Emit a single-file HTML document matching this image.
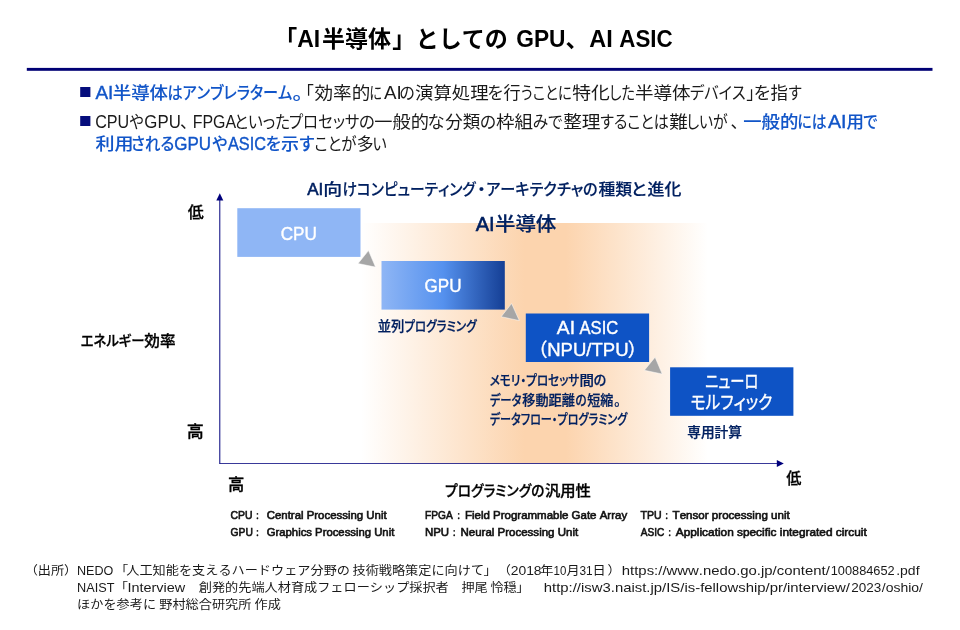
<!DOCTYPE html>
<html lang="ja">
<head>
<meta charset="utf-8">
<title>「AI半導体」としての GPU、AI ASIC</title>
<style>
html,body{margin:0;padding:0;background:#fff;}
body{width:960px;height:630px;overflow:hidden;position:relative;}
svg{position:absolute;left:0;top:0;display:block;}
text{font-family:"Liberation Sans","Noto Sans CJK JP",sans-serif;white-space:pre;font-kerning:none;}
.p{font-feature-settings:"palt";}
.title{font-size:23px;font-weight:700;fill:#000;}
.b{font-size:16.9px;fill:#1a1a1a;}
.L{font-size:18.8px;}
.W{stroke-width:.55px;}
.bl{fill:#1155c8;font-weight:500;stroke:#1155c8;stroke-width:.1px;}
.bl.L{stroke-width:.4px;}
.ct{font-size:16.4px;font-weight:500;fill:#002060;stroke:#002060;stroke-width:.18px;}
.ai{font-size:19.4px;font-weight:500;fill:#002060;stroke:#002060;stroke-width:.22px;}
.ax{font-size:15.6px;font-weight:500;fill:#000;stroke:#000;stroke-width:.3px;}
.axs{font-size:14.4px;font-weight:500;fill:#000;stroke:#000;stroke-width:.3px;}
.bx{font-size:18.5px;fill:#fff;stroke:#fff;stroke-width:.4px;}
.nt{font-size:13.33px;font-weight:500;fill:#002060;stroke:#002060;stroke-width:.25px;}
.gl{font-size:10.8px;font-weight:400;fill:#111;stroke:#111;stroke-width:.6px;}
.ft{font-size:13.17px;fill:#1a1a1a;}
.fl{font-size:14.6px;}
.cl{font-size:8.4px;font-weight:900;stroke-width:0;}
.tl{font-size:24.8px;}
</style>
</head>
<body>
<svg width="960" height="630" viewBox="0 0 960 630">
<defs>
<linearGradient id="peach" x1="0" y1="0" x2="1" y2="0">
<stop offset="0" stop-color="#fff"/>
<stop offset="0.47" stop-color="#fcd4ae"/>
<stop offset="0.59" stop-color="#fcd4ae"/>
<stop offset="1" stop-color="#fff"/>
</linearGradient>
<linearGradient id="gpu" x1="0" y1="0" x2="1" y2="0">
<stop offset="0" stop-color="#8fb6f5"/>
<stop offset="0.5" stop-color="#5591ee"/>
<stop offset="1" stop-color="#153f95"/>
</linearGradient>
</defs>
<rect x="0" y="0" width="960" height="630" fill="#fff"/>

<text class="title" xml:space="preserve" y="47.10"><tspan x="274.25">「</tspan><tspan class="tl" x="297.31" textLength="22.94" lengthAdjust="spacingAndGlyphs">AI</tspan><tspan x="322.00">半導体</tspan><tspan x="392.25">」</tspan><tspan x="415.80">としての </tspan><tspan class="tl" x="516.28" textLength="49.29" lengthAdjust="spacingAndGlyphs">GPU</tspan><tspan x="565.40">、</tspan><tspan class="tl" x="589.29" textLength="30.00" lengthAdjust="spacingAndGlyphs">AI </tspan><tspan class="tl" x="619.32" textLength="53.35" lengthAdjust="spacingAndGlyphs">ASIC</tspan></text>
<rect x="26.8" y="67.9" width="905.7" height="2.9" fill="#000074"/>
<rect x="80.2" y="87" width="10.2" height="10" fill="#050d7c"/>
<text class="b p" xml:space="preserve" y="99.20"><tspan class="bl L" x="95.40" textLength="17.91" lengthAdjust="spacingAndGlyphs">AI</tspan><tspan class="bl" x="112.78" textLength="55.18" lengthAdjust="spacingAndGlyphs">半導体</tspan><tspan class="bl" x="167.43" textLength="124.91" lengthAdjust="spacingAndGlyphs">はアンブレラターム</tspan><tspan class="bl" x="292.36" textLength="10.60" lengthAdjust="spacingAndGlyphs">。</tspan><tspan x="305.25">「</tspan><tspan x="314.45" textLength="55.84" lengthAdjust="spacingAndGlyphs">効率的</tspan><tspan x="369.46" textLength="12.51" lengthAdjust="spacingAndGlyphs">に</tspan><tspan class="L" x="384.00" textLength="17.75" lengthAdjust="spacingAndGlyphs">AI</tspan><tspan x="399.64" textLength="15.17" lengthAdjust="spacingAndGlyphs">の</tspan><tspan x="414.98" textLength="73.63" lengthAdjust="spacingAndGlyphs">演算処理</tspan><tspan x="487.53" textLength="15.30" lengthAdjust="spacingAndGlyphs">を</tspan><tspan x="503.49" textLength="17.16" lengthAdjust="spacingAndGlyphs">行</tspan><tspan x="520.72" textLength="50.98" lengthAdjust="spacingAndGlyphs">うことに</tspan><tspan x="572.24" textLength="37.65" lengthAdjust="spacingAndGlyphs">特化</tspan><tspan x="609.28" textLength="25.69" lengthAdjust="spacingAndGlyphs">した</tspan><tspan x="634.90" textLength="55.84" lengthAdjust="spacingAndGlyphs">半導体</tspan><tspan x="690.10" textLength="55.66" lengthAdjust="spacingAndGlyphs">デバイス</tspan><tspan x="746.55">」</tspan><tspan x="753.73" textLength="16.36" lengthAdjust="spacingAndGlyphs">を</tspan><tspan x="770.48" textLength="17.48" lengthAdjust="spacingAndGlyphs">指</tspan><tspan x="788.65" textLength="13.22" lengthAdjust="spacingAndGlyphs">す</tspan></text>
<rect x="80.2" y="116" width="10.2" height="10" fill="#050d7c"/>
<text class="b p" xml:space="preserve" y="128.40"><tspan class="L" x="95.14" textLength="34.07" lengthAdjust="spacingAndGlyphs">CPU</tspan><tspan x="129.55" textLength="14.23" lengthAdjust="spacingAndGlyphs">や</tspan><tspan class="L" x="144.30" textLength="36.50" lengthAdjust="spacingAndGlyphs">GPU</tspan><tspan x="180.25">、</tspan><tspan class="L" x="192.73" textLength="43.39" lengthAdjust="spacingAndGlyphs">FPGA</tspan><tspan x="234.23" textLength="55.73" lengthAdjust="spacingAndGlyphs">といった</tspan><tspan x="288.86" textLength="70.69" lengthAdjust="spacingAndGlyphs">プロセッサ</tspan><tspan x="358.99" textLength="15.76" lengthAdjust="spacingAndGlyphs">の</tspan><tspan x="374.19" textLength="54.67" lengthAdjust="spacingAndGlyphs">一般的</tspan><tspan x="427.51" textLength="16.95" lengthAdjust="spacingAndGlyphs">な</tspan><tspan x="445.28" textLength="34.86" lengthAdjust="spacingAndGlyphs">分類</tspan><tspan x="480.07" textLength="16.00" lengthAdjust="spacingAndGlyphs">の</tspan><tspan x="496.05" textLength="37.03" lengthAdjust="spacingAndGlyphs">枠組</tspan><tspan x="532.84" textLength="29.74" lengthAdjust="spacingAndGlyphs">みで</tspan><tspan x="563.17" textLength="37.42" lengthAdjust="spacingAndGlyphs">整理</tspan><tspan x="600.33" textLength="68.39" lengthAdjust="spacingAndGlyphs">することは</tspan><tspan x="669.18" textLength="18.53" lengthAdjust="spacingAndGlyphs">難</tspan><tspan x="686.59" textLength="41.05" lengthAdjust="spacingAndGlyphs">しいが</tspan><tspan x="730.65">、</tspan><tspan class="bl" x="743.18" textLength="55.09" lengthAdjust="spacingAndGlyphs">一般的</tspan><tspan class="bl" x="797.46" textLength="29.11" lengthAdjust="spacingAndGlyphs">には</tspan><tspan class="bl L" x="828.00" textLength="18.57" lengthAdjust="spacingAndGlyphs">AI</tspan><tspan class="bl" x="846.48" textLength="17.47" lengthAdjust="spacingAndGlyphs">用</tspan><tspan class="bl" x="863.32" textLength="14.24" lengthAdjust="spacingAndGlyphs">で</tspan></text>
<text class="b p" xml:space="preserve" y="150.10"><tspan class="bl" x="95.44" textLength="38.07" lengthAdjust="spacingAndGlyphs">利用</tspan><tspan class="bl" x="131.17" textLength="43.06" lengthAdjust="spacingAndGlyphs">される</tspan><tspan class="bl L" x="174.32" textLength="36.76" lengthAdjust="spacingAndGlyphs">GPU</tspan><tspan class="bl" x="212.16" textLength="15.18" lengthAdjust="spacingAndGlyphs">や</tspan><tspan class="bl L" x="228.00" textLength="38.01" lengthAdjust="spacingAndGlyphs">ASIC</tspan><tspan class="bl" x="265.80" textLength="15.02" lengthAdjust="spacingAndGlyphs">を</tspan><tspan class="bl" x="280.97" textLength="17.98" lengthAdjust="spacingAndGlyphs">示</tspan><tspan class="bl" x="299.51" textLength="15.03" lengthAdjust="spacingAndGlyphs">す</tspan><tspan x="314.40" textLength="42.06" lengthAdjust="spacingAndGlyphs">ことが</tspan><tspan x="356.75" textLength="16.89" lengthAdjust="spacingAndGlyphs">多</tspan><tspan x="372.44" textLength="14.18" lengthAdjust="spacingAndGlyphs">い</tspan></text>

<rect x="361" y="223" width="347" height="240.5" fill="url(#peach)"/>
<path d="M219.8 463.6 V199" fill="none" stroke="#00007c" stroke-width="1"/>
<path d="M219.3 463.5 H778" fill="none" stroke="#00007c" stroke-width=".78"/>
<path d="M219.8 193.2 L223.3 200.4 H216.3 Z" fill="#00007c"/>
<path d="M783.8 463.5 L776.8 460 V467 Z" fill="#00007c"/>
<rect x="237.3" y="208.2" width="123.2" height="48.7" fill="#8fb6f5"/>
<path d="M368.5 250.6 L358.1 263.5 L375.5 267.1 Z" fill="#a6a6a6" stroke="#fff" stroke-opacity=".7" stroke-width=".7"/>
<rect x="381.5" y="261" width="123.3" height="48.6" fill="url(#gpu)"/>
<path d="M511.6 303.5 L501.2 316.7 L519.3 320.6 Z" fill="#a6a6a6" stroke="#fff" stroke-opacity=".7" stroke-width=".7"/>
<rect x="525.8" y="313.5" width="123.3" height="48.5" fill="#0e53c5"/>
<path d="M655.1 357.2 L644.4 370.3 L662.2 374 Z" fill="#a6a6a6" stroke="#fff" stroke-opacity=".7" stroke-width=".7"/>
<rect x="670.1" y="367.3" width="123.3" height="48.5" fill="#0e53c5"/>

<text class="ct p" xml:space="preserve" y="195.20"><tspan class="W" x="307.30" textLength="16.05" lengthAdjust="spacingAndGlyphs">AI</tspan><tspan x="323.27" textLength="18.94" lengthAdjust="spacingAndGlyphs">向</tspan><tspan x="342.45" textLength="133.23" lengthAdjust="spacingAndGlyphs">けコンピューティング</tspan><tspan x="477.30">・</tspan><tspan x="486.34" textLength="111.39" lengthAdjust="spacingAndGlyphs">アーキテクチャの</tspan><tspan x="598.54" textLength="33.54" lengthAdjust="spacingAndGlyphs">種類</tspan><tspan x="631.14" textLength="15.37" lengthAdjust="spacingAndGlyphs">と</tspan><tspan x="647.58" textLength="33.91" lengthAdjust="spacingAndGlyphs">進化</tspan></text>
<text class="ai p" xml:space="preserve" y="231.00"><tspan class="W" x="475.70" textLength="19.04" lengthAdjust="spacingAndGlyphs">AI</tspan><tspan x="494.94" textLength="61.40" lengthAdjust="spacingAndGlyphs">半導体</tspan></text>
<text class="bx p" xml:space="preserve" y="239.60"><tspan x="280.64" textLength="36.21" lengthAdjust="spacingAndGlyphs">CPU</tspan></text>
<text class="bx p" xml:space="preserve" y="292.20"><tspan x="424.45" textLength="37.03" lengthAdjust="spacingAndGlyphs">GPU</tspan></text>
<text class="bx p" xml:space="preserve" y="333.80"><tspan x="556.88" textLength="23.53" lengthAdjust="spacingAndGlyphs">AI </tspan><tspan x="579.55" textLength="38.71" lengthAdjust="spacingAndGlyphs">ASIC</tspan></text>
<text class="bx p" xml:space="preserve" y="356.00"><tspan x="537.50">（</tspan><tspan x="547.25" textLength="81.26" lengthAdjust="spacingAndGlyphs">NPU/TPU</tspan><tspan x="628.30">）</tspan></text>
<text class="bx p" xml:space="preserve" y="387.60"><tspan x="705.14" textLength="53.26" lengthAdjust="spacingAndGlyphs">ニューロ</tspan></text>
<text class="bx p" xml:space="preserve" y="408.80"><tspan x="690.50" textLength="81.89" lengthAdjust="spacingAndGlyphs">モルフィック</tspan></text>
<text class="nt p" xml:space="preserve" y="330.50"><tspan x="377.80" textLength="26.60" lengthAdjust="spacingAndGlyphs">並列</tspan><tspan x="404.35" textLength="72.31" lengthAdjust="spacingAndGlyphs">プログラミング</tspan></text>
<text class="nt p" xml:space="preserve" y="385.00"><tspan x="489.55" textLength="89.80" lengthAdjust="spacingAndGlyphs">メモリ・プロセッサ</tspan><tspan x="579.41" textLength="14.49" lengthAdjust="spacingAndGlyphs">間</tspan><tspan x="593.77" textLength="12.52" lengthAdjust="spacingAndGlyphs">の</tspan></text>
<text class="nt p" xml:space="preserve" y="404.50"><tspan x="489.78" textLength="31.66" lengthAdjust="spacingAndGlyphs">データ</tspan><tspan x="522.25" textLength="52.55" lengthAdjust="spacingAndGlyphs">移動距離</tspan><tspan x="575.35" textLength="11.18" lengthAdjust="spacingAndGlyphs">の</tspan><tspan x="587.25" textLength="26.14" lengthAdjust="spacingAndGlyphs">短縮</tspan><tspan x="614.00">。</tspan></text>
<text class="nt p" xml:space="preserve" y="424.00"><tspan x="489.78" textLength="137.53" lengthAdjust="spacingAndGlyphs">データフロー・プログラミング</tspan></text>
<text class="nt p" xml:space="preserve" y="437.00"><tspan x="687.29" textLength="54.59" lengthAdjust="spacingAndGlyphs">専用計算</tspan></text>
<text class="ax" xml:space="preserve" y="217.50"><tspan x="187.70" textLength="15.91" lengthAdjust="spacingAndGlyphs">低</tspan></text>
<text class="axs p" xml:space="preserve" y="345.50"><tspan x="80.70" textLength="63.73" lengthAdjust="spacingAndGlyphs">エネルギー</tspan><tspan x="144.33" textLength="31.27" lengthAdjust="spacingAndGlyphs">効率</tspan></text>
<text class="ax" xml:space="preserve" y="436.50"><tspan x="186.88" textLength="17.06" lengthAdjust="spacingAndGlyphs">高</tspan></text>
<text class="ax" xml:space="preserve" y="489.50"><tspan x="228.01" textLength="16.39" lengthAdjust="spacingAndGlyphs">高</tspan></text>
<text class="axs p" xml:space="preserve" y="496.00"><tspan x="445.09" textLength="99.29" lengthAdjust="spacingAndGlyphs">プログラミングの</tspan><tspan x="544.93" textLength="46.03" lengthAdjust="spacingAndGlyphs">汎用性</tspan></text>
<text class="ax" xml:space="preserve" y="484.30"><tspan x="786.30" textLength="15.11" lengthAdjust="spacingAndGlyphs">低</tspan></text>
<text class="gl" xml:space="preserve" y="519.00"><tspan x="230.56" textLength="21.97" lengthAdjust="spacingAndGlyphs">CPU</tspan><tspan class="cl" x="253.15">： </tspan><tspan x="266.74" textLength="119.92" lengthAdjust="spacingAndGlyphs">Central Processing Unit</tspan></text>
<text class="gl" xml:space="preserve" y="536.00"><tspan x="230.56" textLength="22.33" lengthAdjust="spacingAndGlyphs">GPU</tspan><tspan class="cl" x="253.15">： </tspan><tspan x="266.74" textLength="127.58" lengthAdjust="spacingAndGlyphs">Graphics Processing Unit</tspan></text>
<text class="gl" xml:space="preserve" y="519.00"><tspan x="425.03" textLength="27.65" lengthAdjust="spacingAndGlyphs">FPGA</tspan><tspan class="cl" x="454.55">：</tspan><tspan x="464.97" textLength="162.18" lengthAdjust="spacingAndGlyphs">Field Programmable Gate Array</tspan></text>
<text class="gl" xml:space="preserve" y="536.00"><tspan x="424.97" textLength="24.11" lengthAdjust="spacingAndGlyphs">NPU</tspan><tspan class="cl" x="450.05">：</tspan><tspan x="460.47" textLength="117.68" lengthAdjust="spacingAndGlyphs">Neural Processing Unit</tspan></text>
<text class="gl" xml:space="preserve" y="519.00"><tspan x="640.50" textLength="21.09" lengthAdjust="spacingAndGlyphs">TPU</tspan><tspan class="cl" x="662.55">：</tspan><tspan x="672.60" textLength="117.12" lengthAdjust="spacingAndGlyphs">Tensor processing unit</tspan></text>
<text class="gl" xml:space="preserve" y="536.00"><tspan x="640.73" textLength="23.46" lengthAdjust="spacingAndGlyphs">ASIC</tspan><tspan class="cl" x="665.55">：</tspan><tspan x="675.77" textLength="191.00" lengthAdjust="spacingAndGlyphs">Application specific integrated circuit</tspan></text>
<text class="ft" xml:space="preserve" y="624.67" transform="scale(1,0.92)"><tspan x="24.65">（出所）</tspan><tspan class="fl" x="77.02" textLength="36.36" lengthAdjust="spacingAndGlyphs">NEDO</tspan><tspan x="114.90">「</tspan><tspan x="126.30">人工知能を支えるハードウェア分野の </tspan><tspan x="352.50">技術戦略策定に向けて</tspan><tspan x="483.50">」</tspan><tspan x="497.75">（</tspan><tspan class="fl" x="510.69" textLength="30.90" lengthAdjust="spacingAndGlyphs">2018</tspan><tspan x="540.15">年</tspan><tspan class="fl" x="553.61" textLength="12.77" lengthAdjust="spacingAndGlyphs">10</tspan><tspan x="566.60">月</tspan><tspan class="fl" x="579.39" textLength="13.20" lengthAdjust="spacingAndGlyphs">31</tspan><tspan x="592.55">日</tspan><tspan x="607.55">）</tspan><tspan class="fl" x="621.78" textLength="208.05" lengthAdjust="spacingAndGlyphs">https://www.nedo.go.jp/content/</tspan><tspan class="fl" x="830.72" textLength="63.99" lengthAdjust="spacingAndGlyphs">100884652</tspan><tspan class="fl" x="896.20" textLength="23.35" lengthAdjust="spacingAndGlyphs">.pdf</tspan></text>
<text class="ft" xml:space="preserve" y="643.15" transform="scale(1,0.92)"><tspan class="fl" x="77.01" textLength="37.39" lengthAdjust="spacingAndGlyphs">NAIST</tspan><tspan x="114.80">「</tspan><tspan class="fl" x="127.46" textLength="72.30" lengthAdjust="spacingAndGlyphs">Interview　</tspan><tspan x="198.80">創発的先端人材育成フェローシップ採択者　</tspan><tspan x="461.40">押尾 </tspan><tspan x="490.40">怜穏</tspan><tspan x="516.20">」　</tspan><tspan class="fl" x="543.78" textLength="306.13" lengthAdjust="spacingAndGlyphs">http://isw3.naist.jp/IS/is-fellowship/pr/interview/</tspan><tspan class="fl" x="851.21" textLength="29.96" lengthAdjust="spacingAndGlyphs">2023</tspan><tspan class="fl" x="881.80" textLength="41.20" lengthAdjust="spacingAndGlyphs">/oshio/</tspan></text>
<text class="ft" xml:space="preserve" y="661.63" transform="scale(1,0.92)"><tspan x="77.10">ほかを参考に </tspan><tspan x="159.30">野村総合研究所 </tspan><tspan x="254.50">作成</tspan></text>

</svg>
</body>
</html>
